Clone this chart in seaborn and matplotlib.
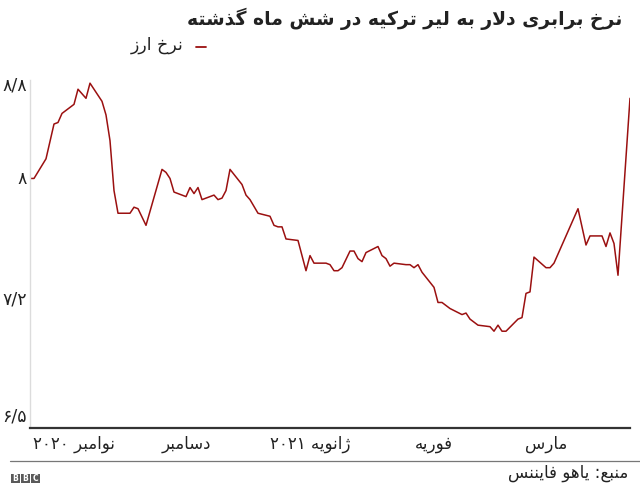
import re
import pandas as pd
import seaborn as sns
import matplotlib.pyplot as plt
from matplotlib.lines import Line2D
from matplotlib.patches import Rectangle

# data (USD/TRY)
dates = ['2020-10-23', '2020-10-24', '2020-10-27', '2020-10-29', '2020-10-30',
         '2020-10-31', '2020-11-03', '2020-11-04', '2020-11-06', '2020-11-07',
         '2020-11-10', '2020-11-11', '2020-11-12', '2020-11-13', '2020-11-14',
         '2020-11-17', '2020-11-18', '2020-11-19', '2020-11-21', '2020-11-25',
         '2020-11-26', '2020-11-27', '2020-11-28', '2020-12-01', '2020-12-02',
         '2020-12-03', '2020-12-04', '2020-12-05', '2020-12-08', '2020-12-09',
         '2020-12-10', '2020-12-11', '2020-12-12', '2020-12-15', '2020-12-16',
         '2020-12-17', '2020-12-19', '2020-12-22', '2020-12-23', '2020-12-24',
         '2020-12-25', '2020-12-26', '2020-12-29', '2020-12-31', '2021-01-01',
         '2021-01-02', '2021-01-05', '2021-01-06', '2021-01-07', '2021-01-08',
         '2021-01-09', '2021-01-11', '2021-01-12', '2021-01-13', '2021-01-14',
         '2021-01-15', '2021-01-18', '2021-01-19', '2021-01-20', '2021-01-21',
         '2021-01-22', '2021-01-25', '2021-01-26', '2021-01-27', '2021-01-28',
         '2021-01-29', '2021-02-01', '2021-02-02', '2021-02-03', '2021-02-05',
         '2021-02-08', '2021-02-09', '2021-02-10', '2021-02-12', '2021-02-15',
         '2021-02-16', '2021-02-17', '2021-02-18', '2021-02-19', '2021-02-22',
         '2021-02-23', '2021-02-24', '2021-02-25', '2021-02-26', '2021-03-01',
         '2021-03-02', '2021-03-03', '2021-03-09', '2021-03-11', '2021-03-12',
         '2021-03-15', '2021-03-16', '2021-03-17', '2021-03-18', '2021-03-19',
         '2021-03-22']
rates = [7.99, 7.99, 8.12, 8.35, 8.36, 8.42, 8.48, 8.58, 8.52, 8.62,
         8.50, 8.41, 8.24, 7.91, 7.76, 7.76, 7.80, 7.79, 7.68, 8.05,
         8.03, 7.99, 7.90, 7.87, 7.93, 7.89, 7.93, 7.85, 7.88, 7.85,
         7.86, 7.91, 8.05, 7.95, 7.88, 7.85, 7.76, 7.74, 7.68, 7.67,
         7.67, 7.59, 7.58, 7.38, 7.48, 7.43, 7.43, 7.42, 7.38, 7.38,
         7.40, 7.51, 7.51, 7.46, 7.44, 7.50, 7.54, 7.48, 7.46, 7.41,
         7.43, 7.42, 7.42, 7.40, 7.42, 7.37, 7.27, 7.17, 7.17, 7.13,
         7.09, 7.10, 7.06, 7.02, 7.01, 6.98, 7.02, 6.98, 6.98, 7.06,
         7.07, 7.23, 7.24, 7.47, 7.40, 7.40, 7.43, 7.79, 7.55, 7.61,
         7.61, 7.54, 7.63, 7.56, 7.35, 8.52]

# axis labels as they sit on the chart
ytick_values = [6.426, 7.2, 8.0, 8.621]
ytick_labels = ['۶/۵', '۷/۲', '۸', '۸/۸']
xtick_dates = ['2020-11-03', '2020-12-01', '2021-01-01', '2021-02-01', '2021-03-01']
xtick_labels = ['نوامبر ۲۰۲۰', 'دسامبر', 'ژانویه ۲۰۲۱', 'فوریه', 'مارس']

title = 'نرخ برابری دلار به لیر ترکیه در شش ماه گذشته'
series_name = 'نرخ ارز'
source = 'منبع: یاهو فایننس'

# matplotlib does no arabic shaping, so do it by hand
# (isolated, final, initial, medial)
FORMS = {
    'ا': ('\uFE8D', '\uFE8E', None, None),
    'ب': ('\uFE8F', '\uFE90', '\uFE91', '\uFE92'),
    'ت': ('\uFE95', '\uFE96', '\uFE97', '\uFE98'),
    'خ': ('\uFEA5', '\uFEA6', '\uFEA7', '\uFEA8'),
    'د': ('\uFEA9', '\uFEAA', None, None),
    'ذ': ('\uFEAB', '\uFEAC', None, None),
    'ر': ('\uFEAD', '\uFEAE', None, None),
    'ز': ('\uFEAF', '\uFEB0', None, None),
    'ژ': ('\uFB8A', '\uFB8B', None, None),
    'س': ('\uFEB1', '\uFEB2', '\uFEB3', '\uFEB4'),
    'ش': ('\uFEB5', '\uFEB6', '\uFEB7', '\uFEB8'),
    'ع': ('\uFEC9', '\uFECA', '\uFECB', '\uFECC'),
    'ف': ('\uFED1', '\uFED2', '\uFED3', '\uFED4'),
    'ک': ('\uFB8E', '\uFB8F', '\uFB90', '\uFB91'),
    'گ': ('\uFB92', '\uFB93', '\uFB94', '\uFB95'),
    'ل': ('\uFEDD', '\uFEDE', '\uFEDF', '\uFEE0'),
    'م': ('\uFEE1', '\uFEE2', '\uFEE3', '\uFEE4'),
    'ن': ('\uFEE5', '\uFEE6', '\uFEE7', '\uFEE8'),
    'ه': ('\uFEE9', '\uFEEA', '\uFEEB', '\uFEEC'),
    'و': ('\uFEED', '\uFEEE', None, None),
    'ی': ('\uFBFC', '\uFBFD', '\uFBFE', '\uFBFF'),
}


def joins_next(c):
    return c in FORMS and FORMS[c][2] is not None


def shape(text):
    out = []
    i = 0
    while i < len(text):
        c = text[i]
        if c not in FORMS:
            out.append(c)
            i += 1
            continue
        con_prev = i > 0 and joins_next(text[i - 1])
        if c == 'ل' and i + 1 < len(text) and text[i + 1] == 'ا':
            out.append('\uFEFC' if con_prev else '\uFEFB')
            i += 2
            continue
        nxt = text[i + 1] if i + 1 < len(text) else ''
        con_next = joins_next(c) and nxt in FORMS
        iso, fin, ini, med = FORMS[c]
        if con_prev and con_next:
            out.append(med)
        elif con_prev:
            out.append(fin)
        elif con_next:
            out.append(ini)
        else:
            out.append(iso)
        i += 1
    return ''.join(out)


def rtl(text):
    s = shape(text)
    tokens = re.findall(r'[۰-۹]+(?:/[۰-۹]+)*|[^۰-۹]+', s)
    vis = [t if t[0] in '۰۱۲۳۴۵۶۷۸۹' else t[::-1] for t in tokens]
    return ''.join(reversed(vis))


sns.set_style('white')
plt.rcParams['font.family'] = ['DejaVu Sans']

df = pd.DataFrame({'date': pd.to_datetime(dates), 'rate': rates})

W, H = 640, 496
fig = plt.figure(figsize=(6.4, 4.96), dpi=100)
ax = fig.add_axes([30 / W, 1 - 428 / H, 600 / W, 348 / H])

line_color = '#9b1010'
sns.lineplot(data=df, x='date', y='rate', ax=ax, color=line_color, linewidth=1.1)

ax.set_xlim(pd.Timestamp('2020-10-23'), pd.Timestamp('2021-03-22'))
ax.set_ylim(6.34, 8.641)
ax.set_yticks(ytick_values)
ax.set_yticklabels(ytick_labels, fontsize=12.5)
ax.set_xticks(pd.to_datetime(xtick_dates))
ax.set_xticklabels([rtl(t) for t in xtick_labels], fontsize=12)
ax.tick_params(axis='both', length=0, colors='#222222')
ax.tick_params(axis='y', pad=2)
ax.tick_params(axis='x', pad=5)
ax.set_xlabel('')
ax.set_ylabel('')

for s in ['top', 'right']:
    ax.spines[s].set_visible(False)
ax.spines['left'].set_color('#dcdcdc')
ax.spines['left'].set_linewidth(1)
ax.spines['bottom'].set_color('#333333')
ax.spines['bottom'].set_linewidth(1.6)

# title and legend
fig.text(622 / W, 1 - 19 / H, rtl(title), ha='right', va='center',
         fontsize=13.5, fontweight='bold', color='#222222')
fig.text(184 / W, 1 - 45 / H, rtl(series_name), ha='right', va='center',
         fontsize=12.5, color='#222222')
fig.add_artist(Line2D([196 / W, 206 / W], [1 - 47 / H, 1 - 47 / H],
                      color=line_color, linewidth=1.3))

# footer
fig.add_artist(Line2D([10 / W, 1], [1 - 461 / H, 1 - 461 / H],
                      color='#777777', linewidth=0.9))
fig.text(628 / W, 1 - 473 / H, rtl(source), ha='right', va='center',
         fontsize=12, color='#222222')
for i, ch in enumerate('BBC'):
    x0 = 11 + i * 10
    fig.add_artist(Rectangle((x0 / W, 1 - 483 / H), 8.5 / W, 9 / H,
                             transform=fig.transFigure, color='#5a5a5a', lw=0))
    fig.text((x0 + 4.25) / W, 1 - 478.5 / H, ch, ha='center', va='center',
             fontsize=5.5, fontweight='bold', color='white')

fig.savefig('out.png', dpi=100)
